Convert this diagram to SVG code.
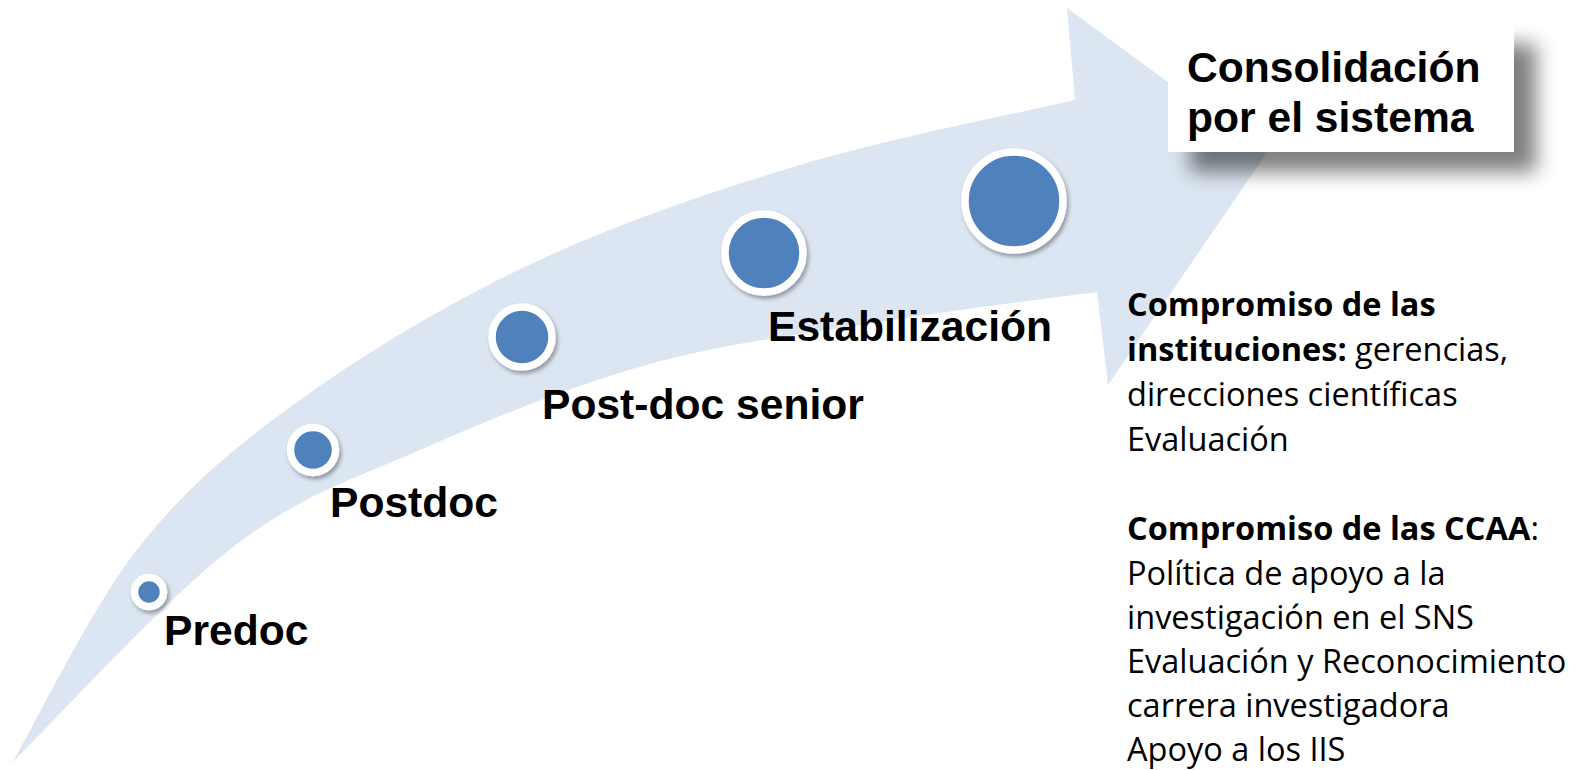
<svg xmlns="http://www.w3.org/2000/svg" width="1583" height="770" viewBox="0 0 1583 770">
<defs>
<filter id="ds" x="-30%" y="-30%" width="170%" height="170%">
<feDropShadow dx="2" dy="3" stdDeviation="2" flood-color="#000" flood-opacity="0.35"/>
</filter>
<filter id="bs" x="-20%" y="-40%" width="140%" height="180%">
<feGaussianBlur stdDeviation="10"/>
</filter>
<style>
.dot{fill:#4F81BD;stroke:#FFFFFF;stroke-width:7.5;filter:url(#ds)}
.lbl{font-family:"Liberation Sans",Arial,sans-serif;font-weight:bold;font-size:42.6px;fill:#000}
.side{font-family:"Open Sans","Noto Sans",sans-serif;font-size:32.5px;fill:#000}
.b{font-weight:bold}
</style>
</defs>
<rect width="1583" height="770" fill="#FFFFFF"/>
<g id="arrow">
<path fill="#DCE6F2" d="M12,763 C34,727 91,607.5 139,547 C187,486.5 234.3,447.3 300,400 C365.7,352.7 449.7,302.2 533,263 C616.3,223.8 709.7,192.2 800,165 C890.3,137.8 1029.2,110.8 1075,100 L1067,8 L1266,154 L1108,385 L1097,292 C1063,296.7 967.5,308 893,320 C818.5,332 728.8,342.3 650,364 C571.2,385.7 489.5,419.5 420,450 C350.5,480.5 301,494.8 233,547 C165,599.2 48.8,727 12,763 Z"/>
</g>
<g id="predoc">
<circle class="dot" cx="149" cy="592" r="14.5"/>
<text class="lbl" x="164" y="645">Predoc</text>
</g>
<g id="postdoc">
<circle class="dot" cx="313" cy="450" r="22.5"/>
<text class="lbl" x="330" y="517">Postdoc</text>
</g>
<g id="postdoc-senior">
<circle class="dot" cx="522" cy="337" r="30"/>
<text class="lbl" x="542" y="419">Post-doc senior</text>
</g>
<g id="estabilizacion">
<circle class="dot" cx="764" cy="253" r="39"/>
<text class="lbl" x="768" y="341">Estabilización</text>
</g>
<g id="consolidacion-dot">
<circle class="dot" cx="1014" cy="201" r="49"/>
</g>
<g id="consolidacion">
<rect x="1190" y="44" width="346" height="128" fill="#000" opacity="0.5" filter="url(#bs)"/>
<rect x="1168" y="24" width="346" height="128" fill="#FFFFFF"/>
<text class="lbl" x="1187" y="82">Consolidación</text>
<text class="lbl" x="1187" y="132">por el sistema</text>
</g>
<g id="compromisos">
<text class="side" x="1127" y="316"><tspan class="b">Compromiso de las</tspan></text>
<text class="side" x="1127" y="361"><tspan class="b">instituciones:</tspan> gerencias,</text>
<text class="side" x="1127" y="406">direcciones científicas</text>
<text class="side" x="1127" y="451">Evaluación</text>
<text class="side" x="1127" y="540"><tspan class="b">Compromiso de las CCAA</tspan>:</text>
<text class="side" x="1127" y="584.5">Política de apoyo a la</text>
<text class="side" x="1127" y="629">investigación en el SNS</text>
<text class="side" x="1127" y="673">Evaluación y Reconocimiento</text>
<text class="side" x="1127" y="717">carrera investigadora</text>
<text class="side" x="1127" y="761">Apoyo a los IIS</text>
</g>
</svg>
